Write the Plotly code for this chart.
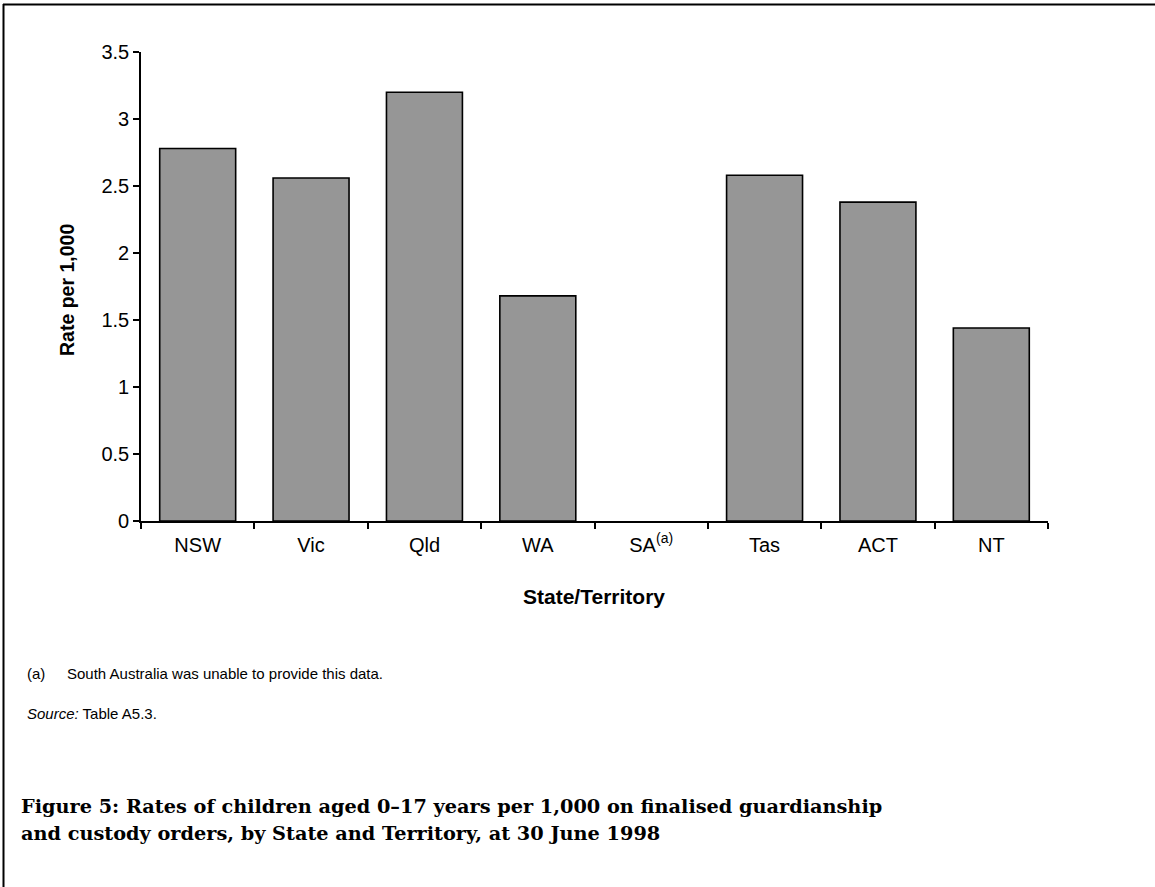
import plotly.graph_objects as go

categories = ["NSW", "Vic", "Qld", "WA", "SA<sup>(a)</sup>", "Tas", "ACT", "NT"]
rates = [2.78, 2.56, 3.20, 1.68, None, 2.58, 2.38, 1.44]
y_ticks = [0, 0.5, 1, 1.5, 2, 2.5, 3, 3.5]
y_tick_labels = ["0", "0.5", "1", "1.5", "2", "2.5", "3", "3.5"]

FONT = "Liberation Sans, Arial, sans-serif"
SERIF = "DejaVu Serif, serif"

W, H = 1155, 887
L, R, T, B = 141, 107, 52, 366

fig = go.Figure()
fig.add_trace(go.Bar(
    x=categories, y=rates,
    marker=dict(color="#969696", line=dict(color="black", width=1.6)),
    width=0.67,
))

fig.update_layout(
    width=W, height=H,
    margin=dict(l=L, r=R, t=T, b=B),
    paper_bgcolor="white", plot_bgcolor="white",
    showlegend=False,
    font=dict(family=FONT, size=20, color="black"),
    xaxis=dict(
        showline=True, linecolor="black", linewidth=1.6,
        ticks="outside", ticklen=6, tickwidth=1.5, tickcolor="black",
        tickson="boundaries", showgrid=False,
        tickfont=dict(family=FONT, size=20),
        ticklabelstandoff=5,
    ),
    yaxis=dict(
        range=[0, 3.5], tickvals=y_ticks, ticktext=y_tick_labels,
        showline=True, linecolor="black", linewidth=1.6,
        ticks="outside", ticklen=6, tickwidth=1.5, tickcolor="black",
        showgrid=False, zeroline=False,
        tickfont=dict(family=FONT, size=20),
    ),
)

pw = W - L - R
ph = H - T - B


def px(x):
    return (x - L) / pw


def py(y):
    return (H - B - y) / ph


def note(text, x, y, size, family=FONT, xanchor="center", angle=0):
    fig.add_annotation(text=text, x=px(x), y=py(y), xref="paper", yref="paper",
                       showarrow=False, xanchor=xanchor, yanchor="middle",
                       textangle=angle, font=dict(family=family, size=size, color="black"))


# Axis titles
note("<b>Rate per 1,000</b>", 67, 290, 19.5, angle=-90)
note("<b>State/Territory</b>", 594, 596, 21)
# Footnotes
note("(a)", 25, 673, 15, xanchor="left")
note("South Australia was unable to provide this data.", 65, 673, 15, xanchor="left")
note("<i>Source:</i> Table A5.3.", 25, 713, 15, xanchor="left")
# Caption (two lines)
note("<b>Figure 5: Rates of children aged 0–17 years per 1,000 on finalised guardianship</b>",
     19, 806, 19.3, family=SERIF, xanchor="left")
note("<b>and custody orders, by State and Territory, at 30 June 1998</b>",
     19, 833, 19.3, family=SERIF, xanchor="left")

# frame (top and left)
fig.add_shape(type="line", xref="paper", yref="paper",
              x0=px(3), x1=px(W), y0=py(4.5), y1=py(4.5),
              line=dict(color="black", width=2))
fig.add_shape(type="line", xref="paper", yref="paper",
              x0=px(3.5), x1=px(3.5), y0=py(4), y1=py(H),
              line=dict(color="black", width=2))

fig.write_html("out.html", config={"displayModeBar": False},
               post_script="document.body.style.margin='0';document.body.style.padding='0';")
